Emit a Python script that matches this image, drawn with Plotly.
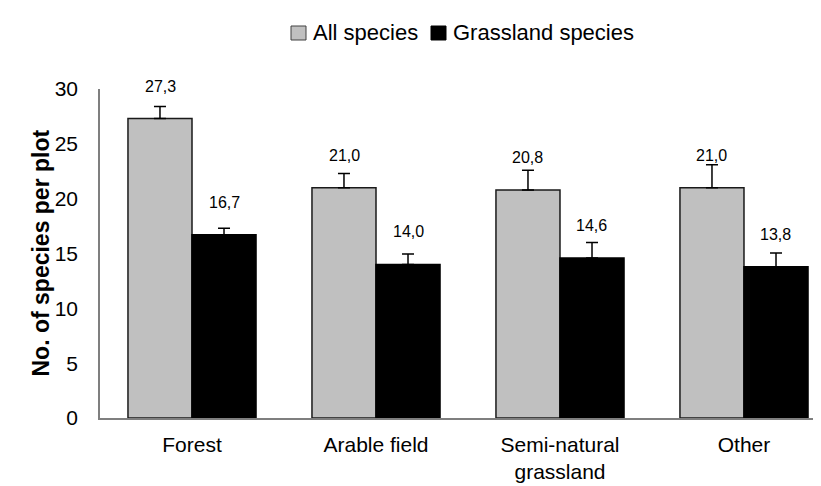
import plotly.graph_objects as go

categories = ["Forest", "Arable field", "Semi-natural<br>grassland", "Other"]
all_species = [27.3, 21.0, 20.8, 21.0]
all_err = [1.1, 1.3, 1.8, 2.1]
grass_species = [16.7, 14.0, 14.6, 13.8]
grass_err = [0.6, 0.95, 1.4, 1.25]
value_labels_all = ["27,3", "21,0", "20,8", "21,0"]
value_labels_grass = ["16,7", "14,0", "14,6", "13,8"]
series_names = ["All species", "Grassland species"]
y_ticks = [0, 5, 10, 15, 20, 25, 30]

FONT = "Liberation Sans, Arial, sans-serif"
W, H = 821, 486
ML, MR, MT, MB = 92, 0, 81, 76

fig = go.Figure()
fig.add_trace(go.Bar(
    x=categories, y=all_species, name=series_names[0],
    marker=dict(color="#C0C0C0", line=dict(color="#1a1a1a", width=1.5)),
    error_y=dict(type="data", array=all_err, arrayminus=[0] * len(all_err),
                 symmetric=False, color="#000000", thickness=1.5, width=6),
    showlegend=False,
))
fig.add_trace(go.Bar(
    x=categories, y=grass_species, name=series_names[1],
    marker=dict(color="#000000", line=dict(color="#000000", width=1.5)),
    error_y=dict(type="data", array=grass_err, arrayminus=[0] * len(grass_err),
                 symmetric=False, color="#000000", thickness=1.5, width=6),
    showlegend=False,
))

annotations = []
pw = W - ML - MR
for i, cat in enumerate(categories):
    annotations.append(dict(x=cat, y=all_species[i], xref="x", yref="y",
                            text=value_labels_all[i], showarrow=False,
                            yanchor="bottom", yshift=22, xshift=-32,
                            font=dict(family=FONT, size=16, color="#000")))
    annotations.append(dict(x=cat, y=grass_species[i], xref="x", yref="y",
                            text=value_labels_grass[i], showarrow=False,
                            yanchor="bottom", yshift=22, xshift=32,
                            font=dict(family=FONT, size=16, color="#000")))

# y-axis title
annotations.append(dict(x=(32 - ML) / pw, y=0.5, xref="paper", yref="paper",
                        text="<b>No. of species per plot</b>", textangle=-90,
                        showarrow=False, xanchor="center", yanchor="middle",
                        font=dict(family=FONT, size=23, color="#000")))

# manual legend
ph = H - MT - MB
def px_x(p):
    return (p - ML) / pw
def px_y(p):
    return (H - MB - p) / ph

shapes = []
legend_items = [(series_names[0], "#C0C0C0", "#404040", 283, 303),
                (series_names[1], "#000000", "#000000", 423, 443)]
for name, fill, line, sx, tx in legend_items:
    shapes.append(dict(type="rect", xref="paper", yref="paper",
                       x0=px_x(sx), x1=px_x(sx + 15), y0=px_y(32), y1=px_y(18),
                       fillcolor=fill, line=dict(color=line, width=1)))
    annotations.append(dict(x=px_x(tx), y=px_y(25), xref="paper", yref="paper",
                            text=name, showarrow=False, xanchor="left",
                            yanchor="middle",
                            font=dict(family=FONT, size=22, color="#000")))

fig.update_layout(
    width=W, height=H,
    margin=dict(l=ML, r=MR, t=MT, b=MB, pad=0),
    paper_bgcolor="white", plot_bgcolor="white",
    barmode="group", bargap=0.304, bargroupgap=0,
    font=dict(family=FONT, size=22, color="#000"),
    annotations=annotations, shapes=shapes,
    showlegend=False,
)
fig.update_xaxes(
    type="category", range=[-0.5, 3.462],
    showline=True, linecolor="#7f7f7f", linewidth=1.5,
    ticks="", showgrid=False, zeroline=False,
    tickfont=dict(family=FONT, size=21, color="#000"),
    ticklabelstandoff=7,
)
fig.update_yaxes(
    range=[0, 30], tickvals=y_ticks,
    showline=True, linecolor="#7f7f7f", linewidth=1.5,
    ticks="", showgrid=False, zeroline=False,
    tickfont=dict(family=FONT, size=21, color="#000"),
    ticklabelstandoff=16,
)

fig.write_html("out.html")
